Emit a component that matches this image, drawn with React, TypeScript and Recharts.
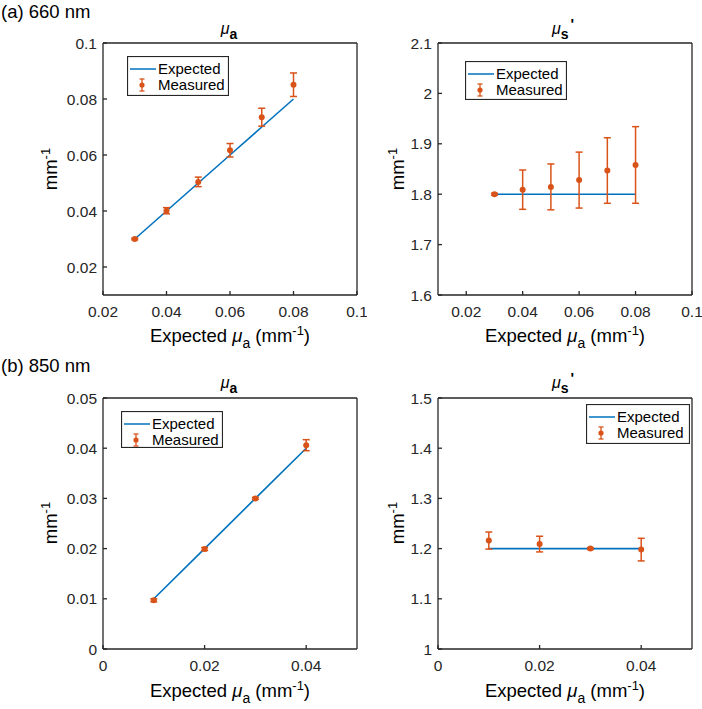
import { ComposedChart, Line, Scatter, ErrorBar, XAxis, YAxis, Legend } from 'recharts'

const BLUE = '#0072BD'
const ORANGE = '#D95319'
const INK = '#262626'
const FONT = '"Liberation Sans", Arial, Helvetica, sans-serif'

// (a) 660 nm
const muA660 = [0.03, 0.04, 0.05, 0.06, 0.07, 0.08]
const expA660 = [0.03, 0.04, 0.05, 0.06, 0.07, 0.08]
const measA660 = [0.03, 0.0401, 0.0504, 0.0617, 0.0735, 0.0851]
const errA660 = [0.0003, 0.0011, 0.0017, 0.0024, 0.0032, 0.0042]
const expS660 = [1.8, 1.8, 1.8, 1.8, 1.8, 1.8]
const measS660 = [1.8, 1.809, 1.8145, 1.828, 1.847, 1.858]
const errS660 = [0.002, 0.039, 0.0455, 0.0555, 0.065, 0.076]

// (b) 850 nm
const muA850 = [0.01, 0.02, 0.03, 0.04]
const expA850 = [0.01, 0.02, 0.03, 0.04]
const measA850 = [0.0097, 0.0199, 0.03, 0.0406]
const errA850 = [0.0003, 0.0003, 0.0002, 0.0011]
const expS850 = [1.2, 1.2, 1.2, 1.2]
const measS850 = [1.216, 1.209, 1.2, 1.198]
const errS850 = [0.017, 0.0156, 0.002, 0.0225]

// axis ticks
const xTicks660 = [0.02, 0.04, 0.06, 0.08, 0.1]
const yTicksA660 = [0.02, 0.04, 0.06, 0.08, 0.1]
const yTicksS660 = [1.6, 1.7, 1.8, 1.9, 2, 2.1]
const xTicks850 = [0, 0.02, 0.04]
const yTicksA850 = [0, 0.01, 0.02, 0.03, 0.04, 0.05]
const yTicksS850 = [1, 1.1, 1.2, 1.3, 1.4, 1.5]

const SERIES = ['Expected', 'Measured']

const rows = (xs: number[], exp: number[], meas: number[], err: number[]) =>
  xs.map((x, i) => ({ x, expected: exp[i], measured: meas[i], err: err[i] }))

type Box = { x0: number; x1: number; y0: number; y1: number }

function Dot(props: any) {
  const { cx, cy } = props
  if (cx == null || cy == null) return null
  return <circle cx={cx} cy={cy} r={3} fill={ORANGE} />
}

function LegendBox({ payload, w, h }: any) {
  const items = payload && payload.length ? payload : SERIES.map((v, i) => ({ value: v, type: i === 0 ? 'line' : 'circle' }))
  return (
    <svg width={w} height={h} style={{ display: 'block' }}>
      <rect x={0.5} y={0.5} width={w - 1} height={h - 1} fill="#fff" stroke={INK} strokeWidth={1.2} />
      {items.map((it: any, i: number) => {
        const cy = i === 0 ? 13 : 29
        return (
          <g key={i}>
            {it.type === 'line' ? (
              <line x1={3} x2={29} y1={cy} y2={cy} stroke={BLUE} strokeWidth={1.5} />
            ) : (
              <g stroke={ORANGE} strokeWidth={1.3}>
                <line x1={15} x2={15} y1={cy - 6} y2={cy + 6} />
                <line x1={12.5} x2={17.5} y1={cy - 6} y2={cy - 6} />
                <line x1={12.5} x2={17.5} y1={cy + 6} y2={cy + 6} />
                <circle cx={15} cy={cy} r={2.6} fill={ORANGE} stroke="none" />
              </g>
            )}
            <text x={31} y={cy + 5} fontSize={15} fill="#000" fontFamily={FONT}>
              {it.value}
            </text>
          </g>
        )
      })}
    </svg>
  )
}

interface PanelProps {
  data: { x: number; expected: number; measured: number; err: number }[]
  box: Box
  xDomain: [number, number]
  xTicks: number[]
  yDomain: [number, number]
  yTicks: number[]
  legend: { x: number; y: number; w: number; h: number }
}

function Panel({ data, box, xDomain, xTicks, yDomain, yTicks, legend }: PanelProps) {
  const left = box.x0 - 70
  const top = box.y0 - 20
  const width = box.x1 - box.x0 + 80
  const height = box.y1 - box.y0 + 60
  const tick = { fill: INK, fontSize: 15.5, fontFamily: FONT }
  return (
    <div style={{ position: 'absolute', left, top, width, height }}>
      <ComposedChart width={width} height={height} data={data} margin={{ top: 19, right: 9, bottom: 10, left: 10 }}>
        <XAxis
          dataKey="x"
          type="number"
          domain={xDomain}
          ticks={xTicks}
          allowDataOverflow
          height={30}
          stroke={INK}
          strokeWidth={1.3}
          tick={tick}
          tickSize={-4}
          tickMargin={15}
        />
        <XAxis
          xAxisId="top"
          orientation="top"
          type="number"
          domain={xDomain}
          ticks={xTicks}
          allowDataOverflow
          height={1}
          stroke={INK}
          strokeWidth={1.3}
          tick={false}
          tickSize={-4}
        />
        <YAxis
          type="number"
          domain={yDomain}
          ticks={yTicks}
          allowDataOverflow
          width={60}
          stroke={INK}
          strokeWidth={1.3}
          tick={tick}
          tickSize={-4}
          tickMargin={10}
        />
        <YAxis
          yAxisId="right"
          orientation="right"
          type="number"
          domain={yDomain}
          ticks={yTicks}
          allowDataOverflow
          width={1}
          stroke={INK}
          strokeWidth={1.3}
          tick={false}
          tickSize={-4}
        />
        <Legend
          layout="horizontal"
          verticalAlign="middle"
          align="center"
          wrapperStyle={{ left: legend.x - left, top: legend.y - top, width: legend.w, height: legend.h }}
          content={(p: any) => <LegendBox payload={p.payload} w={legend.w} h={legend.h} />}
        />
        <Line
          dataKey="expected"
          name={SERIES[0]}
          legendType="line"
          stroke={BLUE}
          strokeWidth={1.6}
          dot={false}
          isAnimationActive={false}
        />
        <Scatter
          dataKey="measured"
          name={SERIES[1]}
          legendType="circle"
          fill={ORANGE}
          shape={Dot}
          isAnimationActive={false}
        >
          <ErrorBar dataKey="err" direction="y" width={3.5} stroke={ORANGE} strokeWidth={1.5} isAnimationActive={false} />
        </Scatter>
      </ComposedChart>
    </div>
  )
}

function Title({ cx, y, sub, prime }: { cx: number; y: number; sub: string; prime?: boolean }) {
  return (
    <text x={cx} y={y} textAnchor="middle" fontSize={16} fill="#000">
      <tspan fontStyle="italic">μ</tspan>
      <tspan dy={5} fontWeight="bold" fontSize={14}>{sub}</tspan>
      {prime && <tspan dy={-10} dx={2} fontWeight="bold" fontSize={15}>{"'"}</tspan>}
    </text>
  )
}

function XLabel({ cx, y }: { cx: number; y: number }) {
  return (
    <text x={cx} y={y} textAnchor="middle" fontSize={18.5} fill="#000">
      Expected <tspan fontStyle="italic">μ</tspan>
      <tspan dy={6} fontSize={14}>a</tspan>
      <tspan dy={-6}> (mm</tspan>
      <tspan dy={-7} fontSize={13}>-1</tspan>
      <tspan dy={7}>)</tspan>
    </text>
  )
}

function YLabel({ x, cy }: { x: number; cy: number }) {
  return (
    <text x={x} y={cy} textAnchor="middle" fontSize={18.5} fill="#000" transform={`rotate(-90 ${x} ${cy})`}>
      mm<tspan dy={-7} fontSize={13}>-1</tspan>
    </text>
  )
}

const boxA1: Box = { x0: 103, x1: 357, y0: 43, y1: 295 }
const boxA2: Box = { x0: 438, x1: 692, y0: 43, y1: 295 }
const boxB1: Box = { x0: 103, x1: 357, y0: 398, y1: 649 }
const boxB2: Box = { x0: 438, x1: 692, y0: 398, y1: 649 }

export default function App() {
  return (
    <div
      style={{
        position: 'absolute',
        left: 0,
        top: 0,
        width: 702,
        height: 709,
        background: '#fff',
        fontFamily: FONT,
        overflow: 'hidden',
      }}
    >
      <Panel
        data={rows(muA660, expA660, measA660, errA660)}
        box={boxA1}
        xDomain={[0.02, 0.1]}
        xTicks={xTicks660}
        yDomain={[0.01, 0.1]}
        yTicks={yTicksA660}
        legend={{ x: 127, y: 56, w: 102, h: 40 }}
      />
      <Panel
        data={rows(muA660, expS660, measS660, errS660)}
        box={boxA2}
        xDomain={[0.01, 0.1]}
        xTicks={xTicks660}
        yDomain={[1.6, 2.1]}
        yTicks={yTicksS660}
        legend={{ x: 465, y: 61, w: 102, h: 39 }}
      />
      <Panel
        data={rows(muA850, expA850, measA850, errA850)}
        box={boxB1}
        xDomain={[0, 0.05]}
        xTicks={xTicks850}
        yDomain={[0, 0.05]}
        yTicks={yTicksA850}
        legend={{ x: 121, y: 411, w: 102, h: 37 }}
      />
      <Panel
        data={rows(muA850, expS850, measS850, errS850)}
        box={boxB2}
        xDomain={[0, 0.05]}
        xTicks={xTicks850}
        yDomain={[1, 1.5]}
        yTicks={yTicksS850}
        legend={{ x: 586, y: 404, w: 104, h: 40 }}
      />
      <svg
        width={702}
        height={709}
        style={{ position: 'absolute', left: 0, top: 0, pointerEvents: 'none' }}
        fontFamily={FONT}
      >
        <text x={1} y={18} fontSize={18.5} fill="#000">(a) 660 nm</text>
        <text x={1} y={372} fontSize={18.5} fill="#000">(b) 850 nm</text>
        <Title cx={229} y={34} sub="a" />
        <Title cx={563} y={34} sub="s" prime />
        <Title cx={229} y={388} sub="a" />
        <Title cx={563} y={388} sub="s" prime />
        <XLabel cx={230} y={342} />
        <XLabel cx={565} y={342} />
        <XLabel cx={230} y={697} />
        <XLabel cx={565} y={697} />
        <YLabel x={57} cy={169} />
        <YLabel x={404} cy={169} />
        <YLabel x={57} cy={523} />
        <YLabel x={404} cy={523} />
      </svg>
    </div>
  )
}
